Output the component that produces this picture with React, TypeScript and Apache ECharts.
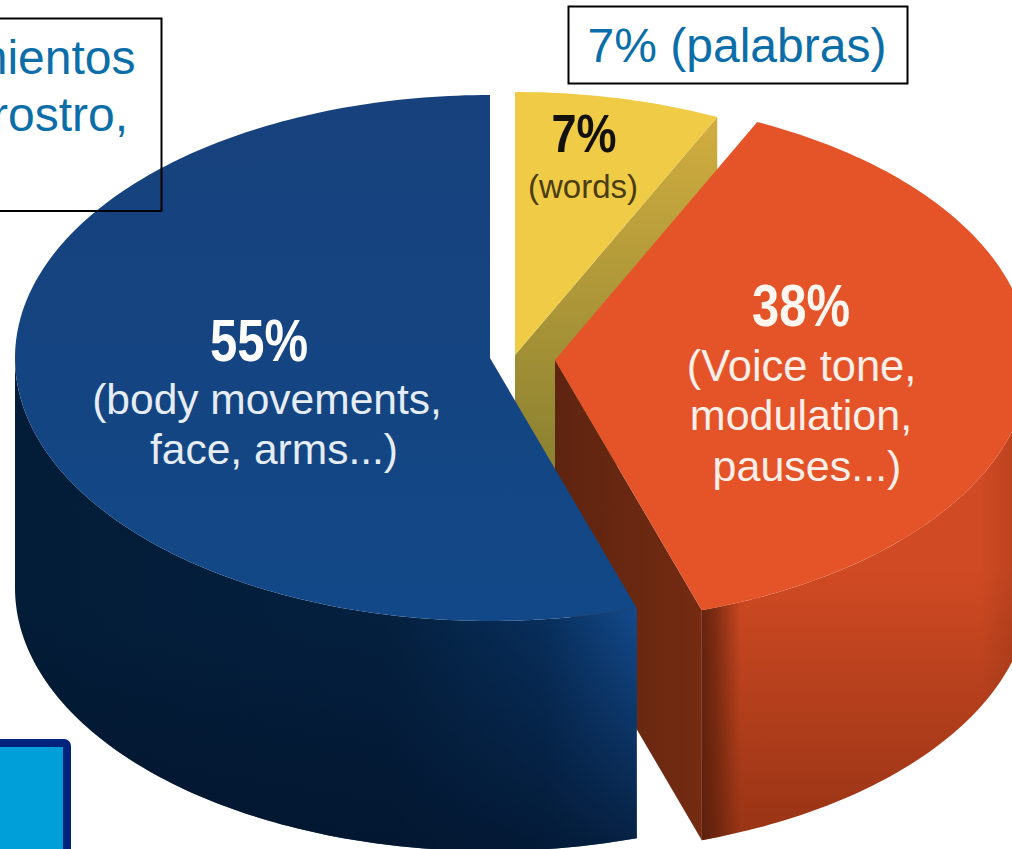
import React, { useEffect, useRef } from "react";
import * as echarts from "echarts";

const sliceNames = ["words", "voice", "body"];
const sliceValues = [7, 38, 55];
const sliceTopColors = ["#F0CB46", "#E55328", "#17437F"];

const boxLines = ["7% (palabras)"];
const leftBoxLines = ["movimientos", "rostro,"];
const wordsLabel = ["7%", "(words)"];
const voiceLabel = ["38%", "(Voice tone,", "modulation,", "pauses...)"];
const bodyLabel = ["55%", "(body movements,", "face, arms...)"];

const RX = 475;
const RY = 263;
const DEPTH = 230;
const TIPS = [
  [515, 355],
  [555, 360],
  [490, 358],
];
const FONT = '"Liberation Sans", Arial, sans-serif';
const BLUE = "#0B6EA9";
const { LinearGradient } = echarts.graphic;

function arcPoint(tip: number[], deg: number, dy = 0) {
  const t = (deg * Math.PI) / 180;
  return [tip[0] + RX * Math.sin(t), tip[1] - RY * Math.cos(t) + dy];
}
function arc(tip: number[], from: number, to: number, dy = 0) {
  const pts: number[][] = [];
  const n = Math.max(2, Math.ceil(Math.abs(to - from)));
  for (let i = 0; i <= n; i++) pts.push(arcPoint(tip, from + ((to - from) * i) / n, dy));
  return pts;
}
function poly(points: number[][], fill: any) {
  return { type: "polygon", shape: { points }, style: { fill } };
}
function txt(text: string, x: number, y: number, size: number, fill: string, bold = false, sy = 1) {
  return {
    type: "text",
    x,
    y,
    scaleY: sy,
    originX: 0,
    originY: 0,
    style: {
      text,
      x: 0,
      y: 0,
      fill,
      font: `${bold ? "bold " : ""}${size}px ${FONT}`,
      align: "center",
      verticalAlign: "bottom",
    },
  };
}
function grad(x0: number, y0: number, x1: number, y1: number, stops: [number, string][]) {
  return new LinearGradient(x0, y0, x1, y1, stops.map(([offset, color]) => ({ offset, color })), true);
}

function renderSlice(params: any, api: any) {
  const i = params.dataIndex;
  const total = sliceValues.reduce((a, b) => a + b, 0);
  const start = (sliceValues.slice(0, i).reduce((a, b) => a + b, 0) / total) * 360;
  const end = start + (api.value(0) / total) * 360;
  const tip = TIPS[i];
  const children: any[] = [];
  const top = [tip, ...arc(tip, start, end)];

  if (i === 0) {
    // cut face seen from the front
    const e = arcPoint(tip, end);
    children.push(
      poly(
        [tip, e, [e[0], e[1] + DEPTH], [tip[0], tip[1] + DEPTH]],
        grad(0, 130, 0, 460, [
          [0, "#CFAC3F"],
          [1, "#8C8231"],
        ])
      )
    );
  }
  if (i === 1) {
    const e = arcPoint(tip, end);
    children.push(
      poly(
        [tip, e, [e[0], e[1] + DEPTH], [tip[0], tip[1] + DEPTH]],
        grad(555, 0, 700, 0, [
          [0, "#5E2410"],
          [1, "#742B12"],
        ])
      )
    );
    const wall = [...arc(tip, end, 90), ...arc(tip, 90, end, DEPTH)];
    children.push(
      poly(
        wall,
        grad(0, 570, 0, 835, [
          [0, "#D04A23"],
          [1, "#983415"],
        ])
      )
    );
    children.push(
      poly(
        wall,
        grad(700, 0, 1012, 0, [
          [0, "rgba(80,28,10,0.85)"],
          [0.05, "rgba(80,28,10,0.6)"],
          [0.13, "rgba(80,28,10,0)"],
          [0.9, "rgba(80,28,10,0)"],
          [1, "rgba(80,28,10,0.15)"],
        ])
      )
    );
  }
  if (i === 2) {
    const wall = [...arc(tip, start, 270), ...arc(tip, 270, start, DEPTH)];
    children.push(
      poly(
        wall,
        grad(15, 0, 636, 0, [
          [0, "#031C37"],
          [0.6, "#04203F"],
          [0.85, "#082F5C"],
          [1, "#134A8C"],
        ])
      )
    );
    children.push(
      poly(
        wall,
        grad(0, 608, 0, 840, [
          [0, "rgba(2,20,44,0)"],
          [1, "rgba(2,20,44,0.75)"],
        ])
      )
    );
  }
  const topFill =
    i === 2
      ? grad(0, 95, 0, 610, [
          [0, "#17417C"],
          [1, "#124887"],
        ])
      : sliceTopColors[i];
  children.push(poly(top, topFill));

  if (i === 0) {
    children.push(txt(wordsLabel[0], 584, 161, 45, "#14110A", true, 1.2));
    children.push(txt(wordsLabel[1], 583, 203, 33, "#4A3D12"));
  }
  if (i === 1) {
    children.push(txt(voiceLabel[0], 801, 335, 49, "#FFF6F0", true, 1.2));
    children.push(txt(voiceLabel[1], 801.5, 388, 43.5, "#FDEFE8"));
    children.push(txt(voiceLabel[2], 801, 436, 43, "#FDEFE8"));
    children.push(txt(voiceLabel[3], 807, 487, 43, "#FDEFE8"));
  }
  if (i === 2) {
    children.push(txt(bodyLabel[0], 259, 370, 49, "#FFFFFF", true, 1.2));
    children.push(txt(bodyLabel[1], 267, 421, 42.5, "#E6ECF4"));
    children.push(txt(bodyLabel[2], 274, 471, 42.5, "#E6ECF4"));
  }
  return { type: "group", children };
}

export default function App() {
  const ref = useRef<HTMLDivElement>(null);
  useEffect(() => {
    const chart = echarts.init(ref.current!, undefined, { renderer: "svg" });
    chart.setOption({
      animation: false,
      backgroundColor: "#FFFFFF",
      series: [
        {
          type: "custom",
          coordinateSystem: "none",
          renderItem: renderSlice,
          data: sliceValues.map((value, i) => ({ name: sliceNames[i], value })),
          silent: true,
          z: 2,
        },
      ],
      graphic: {
        elements: [
          {
            type: "rect",
            z: 100,
            shape: { x: -20, y: 18.5, width: 181.5, height: 192.5 },
            style: { fill: "none", stroke: "#000000", lineWidth: 2 },
          },
          {
            type: "text",
            z: 101,
            x: 135.5,
            y: 81,
            style: { text: leftBoxLines[0], fill: BLUE, font: `48px ${FONT}`, align: "right", verticalAlign: "bottom" },
          },
          {
            type: "text",
            z: 101,
            x: 128,
            y: 138,
            style: { text: leftBoxLines[1], fill: BLUE, font: `48px ${FONT}`, align: "right", verticalAlign: "bottom" },
          },
          {
            type: "rect",
            z: 100,
            shape: { x: 568.5, y: 6.5, width: 339, height: 77 },
            style: { fill: "none", stroke: "#000000", lineWidth: 2 },
          },
          {
            type: "text",
            z: 101,
            x: 737,
            y: 69,
            style: { text: boxLines[0], fill: BLUE, font: `48px ${FONT}`, align: "center", verticalAlign: "bottom" },
          },
          {
            type: "rect",
            z: 100,
            shape: { x: -20, y: 743, width: 87, height: 200, r: 3 },
            style: { fill: "#009FDA", stroke: "#00237C", lineWidth: 8 },
          },
        ],
      },
    });
    return () => chart.dispose();
  }, []);
  return <div ref={ref} style={{ position: "absolute", left: 0, top: 0, width: 1012, height: 849 }} />;
}
